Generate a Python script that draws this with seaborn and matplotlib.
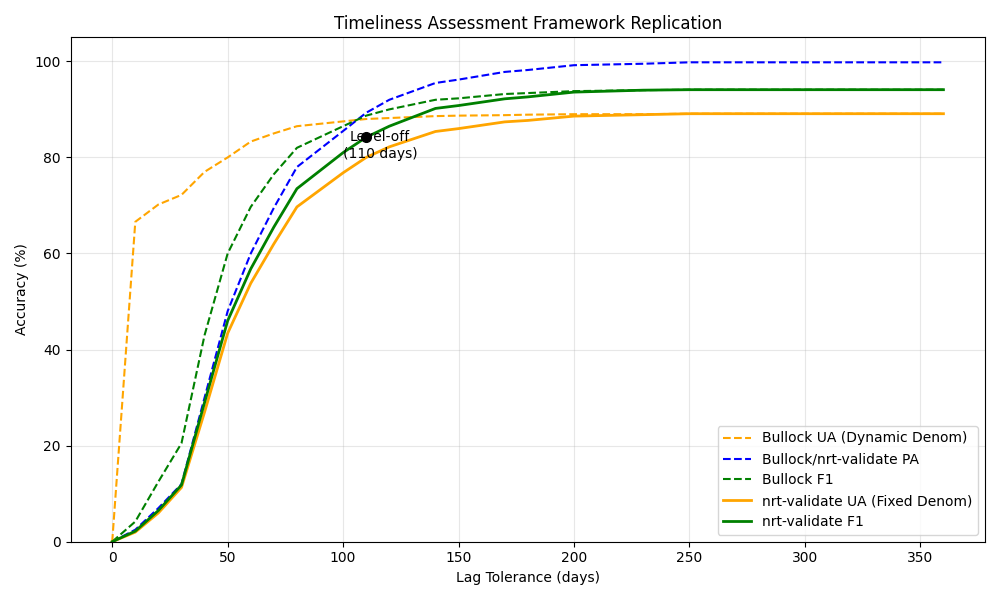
import pandas as pd
import matplotlib
matplotlib.use("Agg")
import matplotlib.pyplot as plt
import seaborn as sns


# lag tolerance (days)
lag_days = [0, 10, 20, 30, 40, 50, 60, 70, 80, 100, 110, 120, 140, 150,
            170, 180, 200, 230, 250, 360]

# accuracy series (%)
bullock_ua = [0, 66.6, 70.2, 72.2, 77.0, 80.0, 83.3, 85.0, 86.5, 87.5, 88.0,
              88.2, 88.6, 88.7, 88.8, 88.9, 89.0, 89.0, 89.1, 89.1]
shared_pa = [0, 2.5, 7.0, 12.0, 30.0, 48.0, 60.0, 69.5, 78.0, 85.5, 89.3,
             92.0, 95.5, 96.2, 97.8, 98.2, 99.2, 99.5, 99.8, 99.8]
bullock_f1 = [0, 4.2, 12.5, 20.5, 43.0, 60.0, 69.7, 76.5, 82.0, 86.5, 88.7,
              90.0, 92.0, 92.3, 93.2, 93.4, 93.8, 94.0, 94.1, 94.1]
nrt_ua = [0, 2.0, 6.0, 11.3, 27.0, 43.4, 53.8, 62.0, 69.7, 76.8, 80.0,
          82.2, 85.4, 86.0, 87.4, 87.7, 88.6, 88.9, 89.1, 89.1]
nrt_f1 = [0, 2.2, 6.5, 11.8, 29.0, 46.0, 56.8, 65.5, 73.5, 81.0, 84.2,
          86.5, 90.2, 90.8, 92.2, 92.6, 93.6, 94.0, 94.1, 94.1]

level_off_day = 110
level_off_value = 84.2


# build long table
series = [
    ("Bullock UA (Dynamic Denom)", bullock_ua, "orange", "--", 1.5),
    ("Bullock/nrt-validate PA", shared_pa, "blue", "--", 1.5),
    ("Bullock F1", bullock_f1, "green", "--", 1.5),
    ("nrt-validate UA (Fixed Denom)", nrt_ua, "orange", "-", 2),
    ("nrt-validate F1", nrt_f1, "green", "-", 2),
]

fig, ax = plt.subplots(figsize=(10, 6), dpi=100)

for name, values, color, style, width in series:
    df = pd.DataFrame({"lag": lag_days, "acc": values})
    sns.lineplot(data=df, x="lag", y="acc", ax=ax, color=color,
                 linestyle=style, linewidth=width, label=name)

# level-off marker
ax.plot(level_off_day, level_off_value, "ko", markersize=7)
ax.annotate("Level-off\n(110 days)", xy=(level_off_day, level_off_value),
            xytext=(10, -6), textcoords="offset points",
            ha="center", va="center", fontsize=10)

ax.set_ylim(0, 105)
ax.set_title("Timeliness Assessment Framework Replication")
ax.set_xlabel("Lag Tolerance (days)")
ax.set_ylabel("Accuracy (%)")
ax.grid(True, alpha=0.3)
ax.legend(loc="lower right")

plt.tight_layout()
plt.savefig("out.png")
